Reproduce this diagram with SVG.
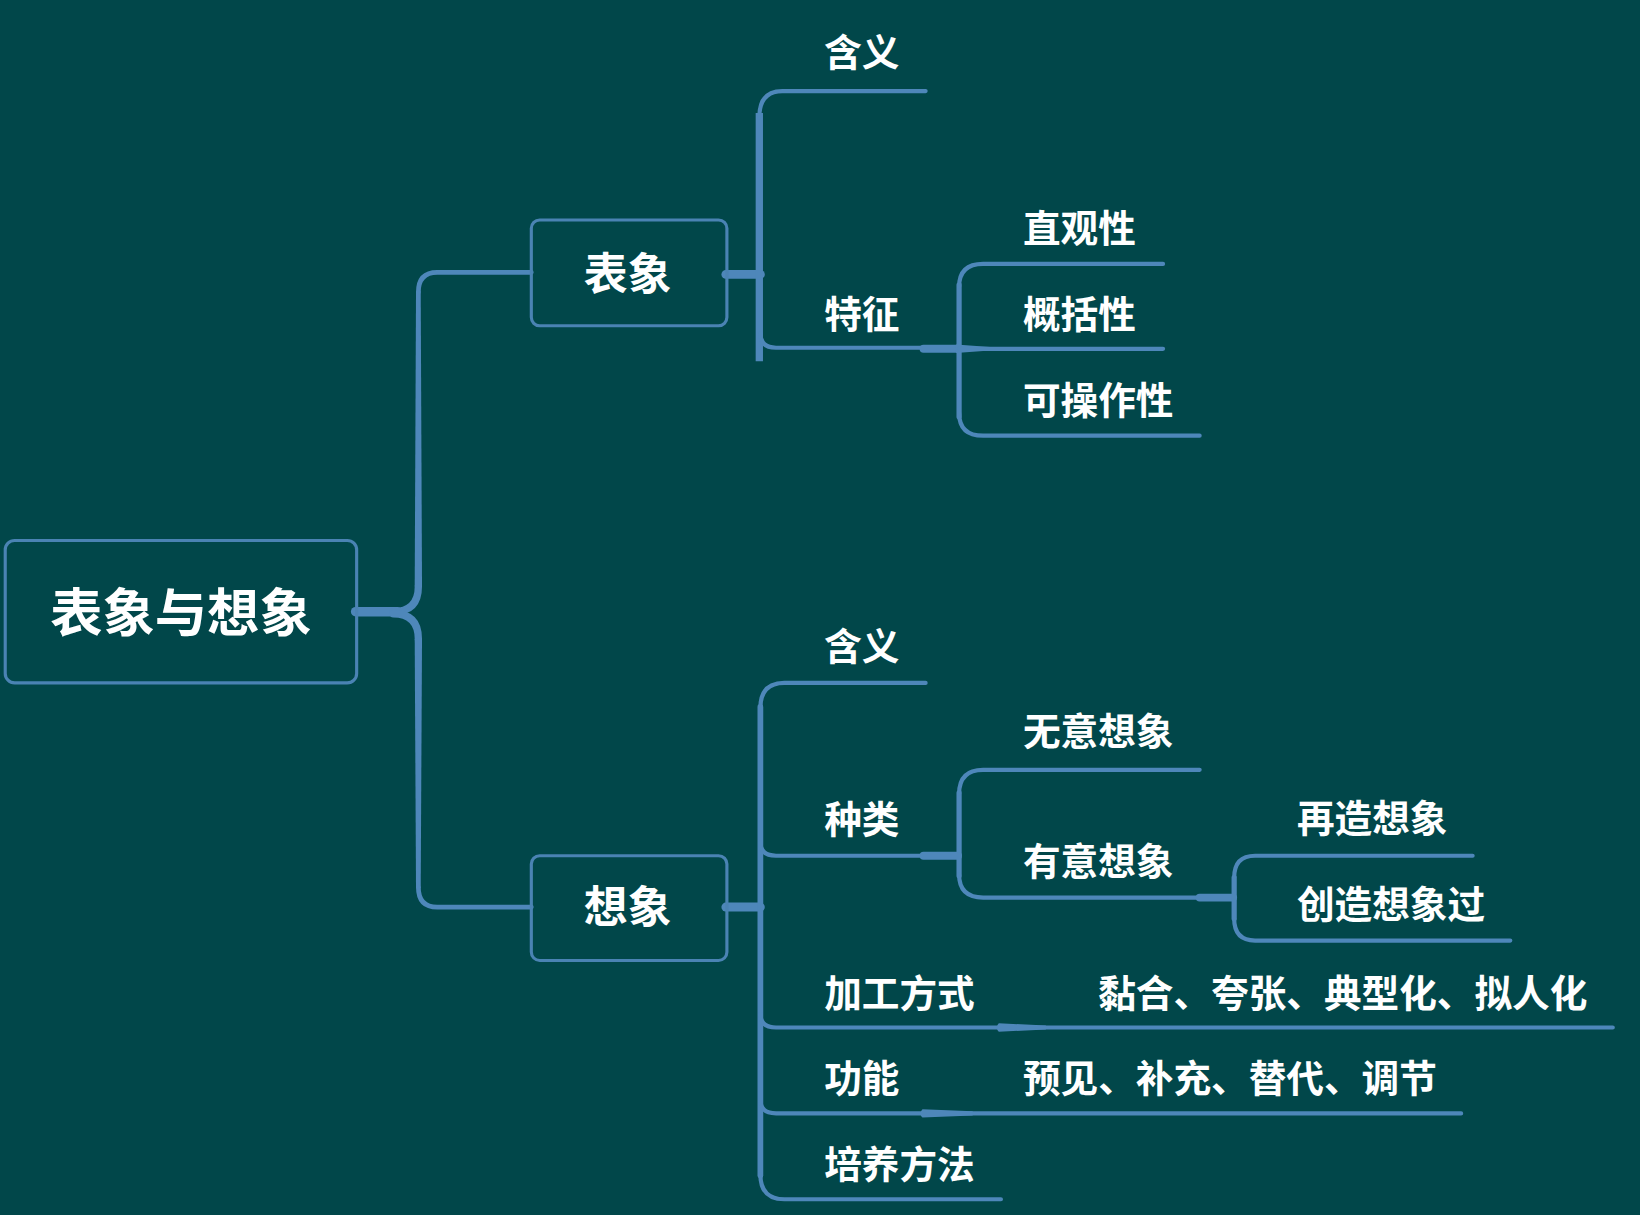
<svg xmlns="http://www.w3.org/2000/svg" width="1640" height="1215" viewBox="0 0 1640 1215">
<style>
.box{fill:none;stroke:#4A83B3;stroke-width:3}
.ln{fill:none;stroke:#4E87BA;stroke-width:4;stroke-linecap:round}
.tk{fill:none;stroke:#4E87BA;stroke-linecap:round}
.tp{fill:#4E87BA}
.t{fill:#FFFFFF;font-family:"Noto Sans CJK SC","Noto Sans CJK JP",sans-serif;font-weight:700;font-size:36px}
.tb{font-size:42px;text-anchor:middle}
.tr{font-size:50px;text-anchor:middle}
</style>
<rect width="1640" height="1215" fill="#01474A"/>
<g transform="scale(1.0459,1.0474)">
<g id="connectors">
  <!-- root to children -->
  <path class="tk" stroke-width="9" d="M340,584 L380,584"/>
  <path class="tk" stroke-width="7" d="M376,584 Q400,584 400,560"/>
  <path class="tp" d="M396.5,560 L403.5,560 L402.25,278 L397.75,278 Z"/>
  <path class="tk" stroke-width="4.5" d="M400,279 Q400,260 418,260 L508,260"/>
  <path class="tk" stroke-width="7" d="M376,586 Q400,586 400,610"/>
  <path class="tp" d="M396.5,610 L403.5,610 L402.25,848 L397.75,848 Z"/>
  <path class="tk" stroke-width="4.5" d="M400,847 Q400,866 418,866 L508,866"/>
  <!-- 表象 children -->
  <path class="tk" stroke-width="8.5" d="M694,262 L727,262"/>
  <path fill="none" stroke="#4E87BA" stroke-width="7" d="M726,108 L726,345"/>
  <path class="ln" d="M726,112 Q726,87 748,87 L885,87"/>
  <path class="ln" d="M727,318 Q727,332 742,332 L885,332"/>
  <!-- 特征 children -->
  <path class="tk" stroke-width="7.5" d="M883,333 L916,333"/>
  <path class="tp" d="M914,329 L950,331.5 L950,334.5 L914,337 Z"/>
  <path class="tk" stroke-width="5" d="M917,272 L917,398"/>
  <path class="ln" d="M917,274 Q917,252 940,252 L1112,252"/>
  <path class="ln" d="M917,333 L1112,333"/>
  <path class="ln" d="M917,394 Q917,416 940,416 L1147,416"/>
  <!-- 想象 children -->
  <path class="tk" stroke-width="8.5" d="M694,866 L727,866"/>
  <path class="tk" stroke-width="5.5" d="M727,675 L727,1122"/>
  <path class="ln" d="M727,676 Q727,652 750,652 L885,652"/>
  <path class="ln" d="M727,804 Q727,817 742,817 L915,817"/>
  <path class="ln" d="M727,968 Q727,981 742,981 L1542,981"/>
  <path class="ln" d="M727,1050 Q727,1063 742,1063 L1397,1063"/>
  <path class="ln" d="M727,1121 Q727,1145 750,1145 L957,1145"/>
  <path class="tp" d="M955,977 Q951,981 955,985 L1000,983 L1000,979 Z"/>
  <path class="tp" d="M882,1059 Q878,1063 882,1067 L930,1065 L930,1061 Z"/>
  <!-- 种类 children -->
  <path class="tk" stroke-width="7.5" d="M883,817 L916,817"/>
  <path class="tk" stroke-width="5" d="M917,757 L917,836"/>
  <path class="ln" d="M917,758 Q917,735 940,735 L1147,735"/>
  <path class="ln" d="M917,835 Q917,857 940,857 L1147,857"/>
  <!-- 有意想象 children -->
  <path class="tk" stroke-width="7.5" d="M1147,857 L1179,857"/>
  <path class="tk" stroke-width="5" d="M1180,838 L1180,877"/>
  <path class="ln" d="M1180,838 Q1180,817 1200,817 L1408,817"/>
  <path class="ln" d="M1180,877 Q1180,898 1200,898 L1444,898"/>
</g>
<g id="root">
  <rect class="box" x="5" y="516" width="336" height="136" rx="9"/>
  <text class="t tr" x="173" y="603">表象与想象</text>
</g>
<g id="biaoxiang">
  <rect class="box" x="508" y="210" width="187" height="101" rx="8"/>
  <text class="t tb" x="600" y="277">表象</text>
</g>
<g id="xiangxiang">
  <rect class="box" x="508" y="817" width="187" height="100" rx="8"/>
  <text class="t tb" x="600" y="881">想象</text>
</g>
<g id="bx-hanyi"><text class="t" x="788" y="63">含义</text></g>
<g id="bx-tezheng"><text class="t" x="788" y="313">特征</text></g>
<g id="zhiguanxing"><text class="t" x="978" y="231">直观性</text></g>
<g id="gaikuoxing"><text class="t" x="978" y="313">概括性</text></g>
<g id="kecaozuoxing"><text class="t" x="978" y="395">可操作性</text></g>
<g id="xx-hanyi"><text class="t" x="788" y="630">含义</text></g>
<g id="zhonglei"><text class="t" x="788" y="795">种类</text></g>
<g id="wuyi"><text class="t" x="978" y="711">无意想象</text></g>
<g id="youyi"><text class="t" x="978" y="835">有意想象</text></g>
<g id="zaizao"><text class="t" x="1240" y="794">再造想象</text></g>
<g id="chuangzao"><text class="t" x="1240" y="876">创造想象过</text></g>
<g id="jiagong"><text class="t" x="788" y="961">加工方式</text></g>
<g id="jiagong-v"><text class="t" x="1050" y="961">黏合、夸张、典型化、拟人化</text></g>
<g id="gongneng"><text class="t" x="788" y="1043">功能</text></g>
<g id="gongneng-v"><text class="t" x="978" y="1043">预见、补充、替代、调节</text></g>
<g id="peiyang"><text class="t" x="788" y="1125">培养方法</text></g>
</g>
</svg>
